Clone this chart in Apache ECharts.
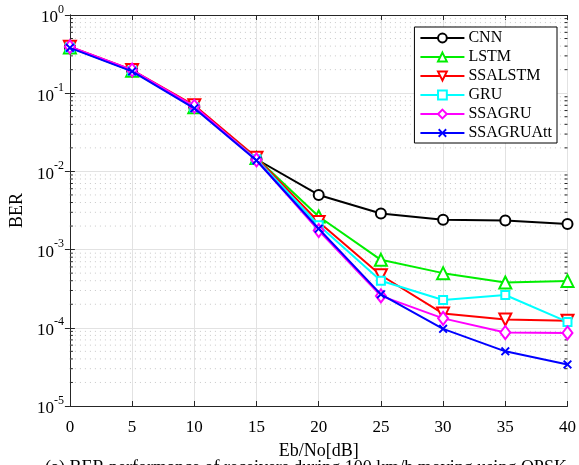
<!DOCTYPE html>
<html><head><meta charset="utf-8">
<script src="https://cdn.jsdelivr.net/npm/echarts@6/dist/echarts.min.js"></script>
<style>html,body{margin:0;padding:0;background:#fff}#c{width:579px;height:465px}</style>
</head><body><div id="c"></div>
<script>
var snr = [0, 5, 10, 15, 20, 25, 30, 35, 40];
var cnn      = [0.388, 0.196, 0.066, 0.0143, 5.0e-3, 2.9e-3, 2.4e-3, 2.35e-3, 2.12e-3];
var lstm     = [0.385, 0.193, 0.066, 0.0148, 2.65e-3, 7.4e-4, 5.0e-4, 3.8e-4, 3.98e-4];
var ssalstm  = [0.392, 0.198, 0.070, 0.0150, 2.25e-3, 4.7e-4, 1.52e-4, 1.28e-4, 1.23e-4];
var gru      = [0.385, 0.193, 0.066, 0.0143, 2.05e-3, 4.0e-4, 2.27e-4, 2.63e-4, 1.19e-4];
var ssagru   = [0.392, 0.198, 0.068, 0.0140, 1.75e-3, 2.56e-4, 1.32e-4, 8.7e-5, 8.6e-5];
var ssagruatt= [0.380, 0.190, 0.064, 0.0138, 1.85e-3, 2.68e-4, 9.7e-5, 5.0e-5, 3.4e-5];
var names = ['CNN','LSTM','SSALSTM','GRU','SSAGRU','SSAGRUAtt'];
var yTickExp = ['0','-1','-2','-3','-4','-5'];
var xLabel = 'Eb/No[dB]';
var yLabel = 'BER';
var caption = '(a) BER performance of receivers during 100 km/h moving using QPSK';

var FONT = '"Liberation Serif", "Times New Roman", serif';
var minorVals = [];
[1e-5,1e-4,1e-3,1e-2,1e-1].forEach(function(d){ for (var k=2;k<=9;k++) minorVals.push(d*k); });

function pairs(arr){ return snr.map(function(x,i){ return [x, arr[i]]; }); }
var xPath = 'path://M1.5,0L5,3.5L8.5,0L10,1.5L6.5,5L10,8.5L8.5,10L5,6.5L1.5,10L0,8.5L3.5,5L0,1.5Z';
var styles = [
  {c:'#000000', s:'emptyCircle', z:10, rot:0},
  {c:'#00ee00', s:'emptyTriangle', z:12, rot:0},
  {c:'#ff0000', s:'emptyTriangle', z:12, rot:180},
  {c:'#00ffff', s:'emptyRect', z:8, rot:0},
  {c:'#ff00ff', s:'emptyDiamond', z:[10,13], rot:0},
  {c:'#0000ff', s:xPath, z:9, rot:0}
];
var datas = [cnn, lstm, ssalstm, gru, ssagru, ssagruatt];

var series = datas.map(function(d, i){
  var st = styles[i];
  return {
    name: names[i], type:'line', data: pairs(d), xAxisIndex:0, yAxisIndex:0,
    symbol: st.s, symbolSize: st.z, symbolRotate: st.rot, showAllSymbol:true,
    lineStyle:{color:st.c, width:2},
    itemStyle:{color: st.c, borderColor:st.c, borderWidth: st.s===xPath?0:2},
    emphasis:{disabled:true}, animation:false, z: 5+i
  };
});

series.unshift({
  type:'custom', xAxisIndex:0, yAxisIndex:0, silent:true, animation:false, z:1,
  data: minorVals.map(function(v){ return [0, v]; }),
  renderItem: function(params, api){
    var v = api.value(1);
    var a = api.coord([0, v]), b = api.coord([40, v]);
    return {type:'group', children:[
      {type:'line', shape:{x1:a[0], y1:a[1], x2:b[0], y2:b[1]}, style:{stroke:'#c8c8c8', lineWidth:1, lineDash:[1,4]}},
      {type:'line', shape:{x1:a[0], y1:a[1], x2:a[0]+3, y2:a[1]}, style:{stroke:'#262626', lineWidth:1}},
      {type:'line', shape:{x1:b[0], y1:b[1], x2:b[0]-3, y2:b[1]}, style:{stroke:'#262626', lineWidth:1}}
    ]};
  }
});

var axisLineStyle = {show:true, lineStyle:{color:'#262626', width:1}};
var option = {
  backgroundColor:'#fff',
  animation:false,
  grid:{left:69, right:11, top:15, bottom:57, containLabel:false},
  xAxis:[
    {type:'value', min:0, max:40, interval:5, position:'bottom',
     axisLine:axisLineStyle, axisTick:{show:true, inside:true, length:5, lineStyle:{color:'#262626'}},
     axisLabel:{color:'#000', fontFamily:FONT, fontSize:17, margin:13},
     splitLine:{show:true, lineStyle:{color:'#e2e2e2', width:1}},
     name:xLabel, nameLocation:'middle', nameGap:36, nameTextStyle:{color:'#000', fontFamily:FONT, fontSize:18}},
    {type:'value', min:0, max:40, interval:5, position:'top',
     axisLine:axisLineStyle, axisTick:{show:true, inside:true, length:5, lineStyle:{color:'#262626'}},
     axisLabel:{show:false}, splitLine:{show:false}}
  ],
  yAxis:[
    {type:'log', logBase:10, min:1e-5, max:1, position:'left',
     axisLine:axisLineStyle, axisTick:{show:true, inside:true, length:5, lineStyle:{color:'#262626'}},
     axisLabel:{margin:6, formatter:function(v){
        var e = Math.round(Math.log10(v));
        return '{b|10}{s|' + yTickExp[-e] + '}';
      }, rich:{b:{fontFamily:FONT, fontSize:17, color:'#000', padding:[6,0,0,0]}, s:{fontFamily:FONT, fontSize:12, color:'#000', verticalAlign:'top', padding:[0,0,6,0]}}},
     splitLine:{show:true, lineStyle:{color:'#e2e2e2', width:1}},
     minorTick:{show:false}, minorSplitLine:{show:false},
     name:yLabel, nameLocation:'middle', nameGap:40, nameRotate:90, nameTextStyle:{color:'#000', fontFamily:FONT, fontSize:18}},
    {type:'log', logBase:10, min:1e-5, max:1, position:'right',
     axisLine:axisLineStyle, axisTick:{show:true, inside:true, length:5, lineStyle:{color:'#262626'}},
     axisLabel:{show:false}, splitLine:{show:false}}
  ],
  legend:{
    orient:'vertical', right:22, top:27, backgroundColor:'#fff', borderColor:'#000', borderWidth:1,
    padding:[3,5,2,5], itemWidth:44, itemHeight:11, itemGap:3,
    textStyle:{fontFamily:FONT, fontSize:16, color:'#000', lineHeight:16, height:16, padding:[0,0,0,-1]},
    data: names
  },
  graphic:[{type:'text', left:45, top:459, silent:true,
    style:{text:caption, fontFamily:FONT, fontSize:18, fill:'#000'}}],
  series: series
};
var chart = echarts.init(document.getElementById('c'), null, {renderer:'canvas'});
chart.setOption(option);
</script></body></html>
